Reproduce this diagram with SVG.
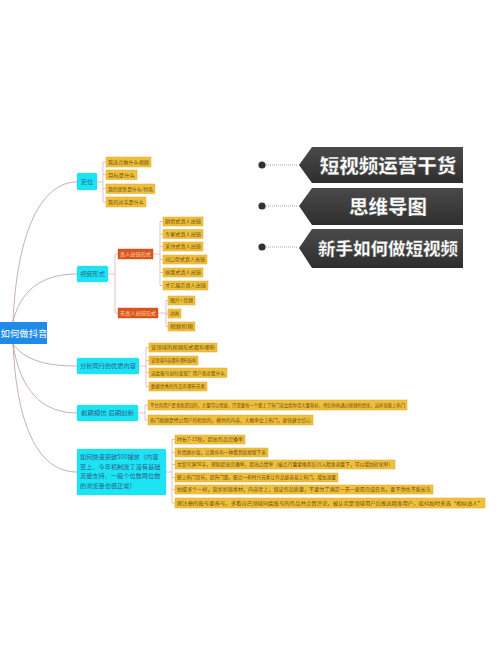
<svg xmlns="http://www.w3.org/2000/svg" width="500" height="666" viewBox="0 0 500 666">
<style>
text{font-family:"Noto Sans CJK SC","Noto Sans",sans-serif}
.conn{fill:none;stroke:#b99a9a;stroke-width:0.8}
.br{fill:none;stroke:#d6aaaa;stroke-width:0.7}
.cy{fill:#1de4f4;stroke:#3fd0e0;stroke-width:0.4}
.cyt{font-size:6.2px;fill:#2f5f8c}
.ye{fill:#f0c03c;stroke:#e0a826;stroke-width:0.5}
.yt{font-size:5px;fill:#6b4e0e}
.rd{fill:#dc5520;stroke:#c44414;stroke-width:0.4}
.rt{font-size:5px;fill:#f8dca0}
.ban{fill:url(#bg)}
.bt{fill:#fff;font-weight:900;stroke:#555;stroke-width:0.4;text-anchor:middle}
.dot{fill:#333}
.dl{stroke:#888;stroke-width:0.8;stroke-dasharray:1 1}
</style>
<defs>
<linearGradient id="bg" x1="0" y1="0" x2="0" y2="1">
<stop offset="0" stop-color="#4a4a4a"/>
<stop offset="1" stop-color="#2e2e2e"/>
</linearGradient>
<filter id="blur" x="-50%" y="-50%" width="200%" height="200%"><feGaussianBlur stdDeviation="0.6"/></filter>
</defs>
<rect width="500" height="666" fill="#ffffff"/>

<g id="connectors">
<path class="conn" d="M13,322 C17,230 42,182 77,182"/>
<path class="conn" d="M13,322 C20,292 40,274 77,274"/>
<path class="conn" d="M13,344 C25,360 45,366 77,366"/>
<path class="conn" d="M13,344 C20,390 42,413 77,413"/>
<path class="conn" d="M13,344 C17,430 40,472 77,472"/>
<path class="br" d="M97,182 H103 M103,162 V202 M103,162 H106 M103,174.5 H106 M103,188.5 H106 M103,202 H106"/>
<path class="br" d="M108,274 H115 M115,254 V313 M115,254 H118 M115,313 H118"/>
<path class="br" d="M153,254 H160 M160,221.5 V285.5 M160,221.5 H163 M160,234 H163 M160,246.5 H163 M160,259.5 H163 M160,272.5 H163 M160,285.5 H163"/>
<path class="br" d="M158,313 H166 M166,300.5 V326.5 M166,300.5 H168 M166,313.5 H168 M166,326.5 H168"/>
<path class="br" d="M139,366 H146 M146,347.5 V386.5 M146,347.5 H149 M146,360.5 H149 M146,372.5 H149 M146,386.5 H149"/>
<path class="br" d="M138,413 H145 M145,405 V420 M145,405 H148 M145,420 H148"/>
<path class="br" d="M166,472 H172 M172,439.5 V503 M172,439.5 H175 M172,452.5 H175 M172,464.5 H175 M172,477.5 H175 M172,489.5 H175 M172,503 H175"/>
</g>

<g id="root">
<rect x="-4" y="322" width="51" height="22" fill="#1f8ae8"/>
<text x="0.5" y="336.5" font-size="9.4" fill="#ffffff">如何做抖音</text>
</g>

<g id="n-dingwei">
<rect class="cy" x="77" y="173" width="20" height="17" rx="1.5"/>
<text class="cyt" x="87" y="184" text-anchor="middle">定位</text>
</g>
<g id="n-dw1"><rect class="ye" x="106" y="157" width="45" height="10"/><text class="yt" x="108" y="163.8" textLength="41" lengthAdjust="spacingAndGlyphs">我适合做什么视频</text></g>
<g id="n-dw2"><rect class="ye" x="106" y="170" width="31" height="9.5"/><text class="yt" x="108" y="176.6" textLength="27" lengthAdjust="spacingAndGlyphs">目标是什么</text></g>
<g id="n-dw3"><rect class="ye" x="106" y="184" width="49" height="9.5"/><text class="yt" x="108" y="190.6" textLength="45" lengthAdjust="spacingAndGlyphs">我的优势是什么/特色</text></g>
<g id="n-dw4"><rect class="ye" x="106" y="197" width="40" height="10"/><text class="yt" x="108" y="203.8" textLength="36" lengthAdjust="spacingAndGlyphs">我的对手是什么</text></g>

<g id="n-xingshi">
<rect class="cy" x="77" y="266" width="31" height="16" rx="1.5"/>
<text class="cyt" x="92.5" y="276.3" text-anchor="middle">视频形式</text>
</g>
<g id="n-zhenren"><rect class="rd" x="118" y="249" width="35" height="10"/><text class="rt" x="120" y="255.8" textLength="31" lengthAdjust="spacingAndGlyphs">真人出镜形式</text></g>
<g id="n-zr1"><rect class="ye" x="163" y="217" width="40" height="9"/><text class="yt" x="165" y="223.4" textLength="36" lengthAdjust="spacingAndGlyphs">剧情式真人出镜</text></g>
<g id="n-zr2"><rect class="ye" x="163" y="229.5" width="40" height="9"/><text class="yt" x="165" y="235.9" textLength="36" lengthAdjust="spacingAndGlyphs">专家式真人出镜</text></g>
<g id="n-zr3"><rect class="ye" x="163" y="242" width="40" height="9"/><text class="yt" x="165" y="248.4" textLength="36" lengthAdjust="spacingAndGlyphs">采访式真人出镜</text></g>
<g id="n-zr4"><rect class="ye" x="163" y="255" width="44" height="9"/><text class="yt" x="165" y="261.4" textLength="40" lengthAdjust="spacingAndGlyphs">对口型式真人出镜</text></g>
<g id="n-zr5"><rect class="ye" x="163" y="268" width="40" height="9"/><text class="yt" x="165" y="274.4" textLength="36" lengthAdjust="spacingAndGlyphs">搞笑式真人出镜</text></g>
<g id="n-zr6"><rect class="ye" x="163" y="281" width="45" height="9"/><text class="yt" x="165" y="287.4" textLength="41" lengthAdjust="spacingAndGlyphs">才艺展示真人出镜</text></g>

<g id="n-wuzhenren"><rect class="rd" x="118" y="308" width="40" height="10"/><text class="rt" x="120" y="314.8" textLength="36" lengthAdjust="spacingAndGlyphs">无真人出镜形式</text></g>
<g id="n-wz1"><rect class="ye" x="168" y="296" width="27" height="9"/><text class="yt" x="170" y="302.4" textLength="23" lengthAdjust="spacingAndGlyphs">图片+音频</text></g>
<g id="n-wz2"><rect class="ye" x="168" y="309" width="13" height="9"/><text class="yt" x="170" y="315.4" textLength="9" lengthAdjust="spacingAndGlyphs">动画</text></g>
<g id="n-wz3"><rect class="ye" x="168" y="322" width="27" height="9"/><text class="yt" x="170" y="328.4" textLength="23" lengthAdjust="spacingAndGlyphs">视频剪辑</text></g>

<g id="n-fenxi">
<rect class="cy" x="77" y="358" width="62" height="16" rx="1.5"/>
<text class="cyt" x="108" y="368.3" text-anchor="middle" textLength="56" lengthAdjust="spacingAndGlyphs">分析同行的优质内容</text>
</g>
<g id="n-fx1"><rect class="ye" x="149" y="343" width="68" height="9"/><text class="yt" x="151" y="349.4" textLength="64" lengthAdjust="spacingAndGlyphs">该领域的视频形式都有哪些</text></g>
<g id="n-fx2"><rect class="ye" x="149" y="356" width="49" height="9"/><text class="yt" x="151" y="362.4" textLength="45" lengthAdjust="spacingAndGlyphs">该领域内容都有哪些结构</text></g>
<g id="n-fx3"><rect class="ye" x="149" y="368" width="78" height="9.5"/><text class="yt" x="151" y="374.6" textLength="74" lengthAdjust="spacingAndGlyphs">这类账号如何变现？用户喜欢看什么</text></g>
<g id="n-fx4"><rect class="ye" x="149" y="382" width="58" height="9"/><text class="yt" x="151" y="388.4" textLength="54" lengthAdjust="spacingAndGlyphs">数据优秀的作品有哪些元素</text></g>

<g id="n-moni">
<rect class="cy" x="77" y="405" width="61" height="16" rx="1.5"/>
<text class="cyt" x="107.5" y="415.3" text-anchor="middle" textLength="53" lengthAdjust="spacingAndGlyphs">前期模仿  后期创新</text>
</g>
<g id="n-mn1"><rect class="ye" x="148" y="400" width="259" height="10"/><text class="yt" x="150" y="406.8" textLength="255" lengthAdjust="spacingAndGlyphs">平台的用户是喜新厌旧的，大量可以借鉴，只需要每一个都上了热门就会给你带大量粉丝，然后你再通过视频的优化，这样就能上热门</text></g>
<g id="n-mn2"><rect class="ye" x="148" y="415" width="165" height="10"/><text class="yt" x="150" y="421.8" textLength="161" lengthAdjust="spacingAndGlyphs">热门视频是经过用户的检验的，模仿的内容，大概率会上热门，更快建立信心</text></g>

<g id="n-tupo">
<rect class="cy" x="77" y="449" width="89" height="46" rx="1.5"/>
<text class="cyt" x="80" y="459">如何快速突破500播放（内容</text>
<text class="cyt" x="80" y="468.5">至上，今年机制改了没有基础</text>
<text class="cyt" x="80" y="478">流量支持，一般个位数两位数</text>
<text class="cyt" x="80" y="487.5">的浏览量也很正常）</text>
</g>
<g id="n-tp1"><rect class="ye" x="175" y="435" width="70" height="9"/><text class="yt" x="177" y="441.4" textLength="66" lengthAdjust="spacingAndGlyphs">时长7-15秒，提高作品完播率</text></g>
<g id="n-tp2"><rect class="ye" x="175" y="448" width="93" height="9"/><text class="yt" x="177" y="454.4" textLength="89" lengthAdjust="spacingAndGlyphs">有情绪价值，让观众有一种看到就想留下来</text></g>
<g id="n-tp3"><rect class="ye" x="175" y="460" width="220" height="9"/><text class="yt" x="177" y="466.4" textLength="216" lengthAdjust="spacingAndGlyphs">文案写满50字，帮助提高完播率，提高点赞率（被点行重要推荐后引入精准流量下，可以增加转化率）</text></g>
<g id="n-tp4"><rect class="ye" x="175" y="473" width="163" height="9"/><text class="yt" x="177" y="479.4" textLength="159" lengthAdjust="spacingAndGlyphs">配上热门音乐，提升门面，配合一些时兴元素让作品更容易上热门，增加流量</text></g>
<g id="n-tp5"><rect class="ye" x="175" y="485" width="258" height="9"/><text class="yt" x="177" y="491.4" textLength="254" lengthAdjust="spacingAndGlyphs">拍摄多个一样，混剪剪辑素材，内容至上，保证作品质量，不要为了满足一天一更而完成任务，要不然也不能长久</text></g>
<g id="n-tp6"><rect class="ye" x="175" y="498" width="310" height="10"/><text class="yt" x="177" y="504.8" textLength="306" lengthAdjust="spacingAndGlyphs">刚注册的账号要养号，多看自己领域同类账号的作品并点赞评论，被认定是领域用户后推送精准用户，投抖加时多选“相似达人”</text></g>

<g id="title1">
<circle class="dot" cx="262" cy="165" r="3.6" filter="url(#blur)"/>
<line class="dl" x1="266" y1="165" x2="298" y2="165"/>
<polygon class="ban" points="299,165 312,147 463,147 463,183 312,183"/>
<text class="bt" x="388" y="172.5" font-size="19.5">短视频运营干货</text>
</g>
<g id="title2">
<circle class="dot" cx="262" cy="206" r="3.6" filter="url(#blur)"/>
<line class="dl" x1="266" y1="206" x2="298" y2="206"/>
<polygon class="ban" points="299,206 312,188 463,188 463,225 312,225"/>
<text class="bt" x="388" y="213.5" font-size="19.5">思维导图</text>
</g>
<g id="title3">
<circle class="dot" cx="262" cy="247" r="3.6" filter="url(#blur)"/>
<line class="dl" x1="266" y1="247" x2="298" y2="247"/>
<polygon class="ban" points="299,248 312,229 463,229 463,268 312,268"/>
<text class="bt" x="388" y="254.5" font-size="17.5">新手如何做短视频</text>
</g>
</svg>
